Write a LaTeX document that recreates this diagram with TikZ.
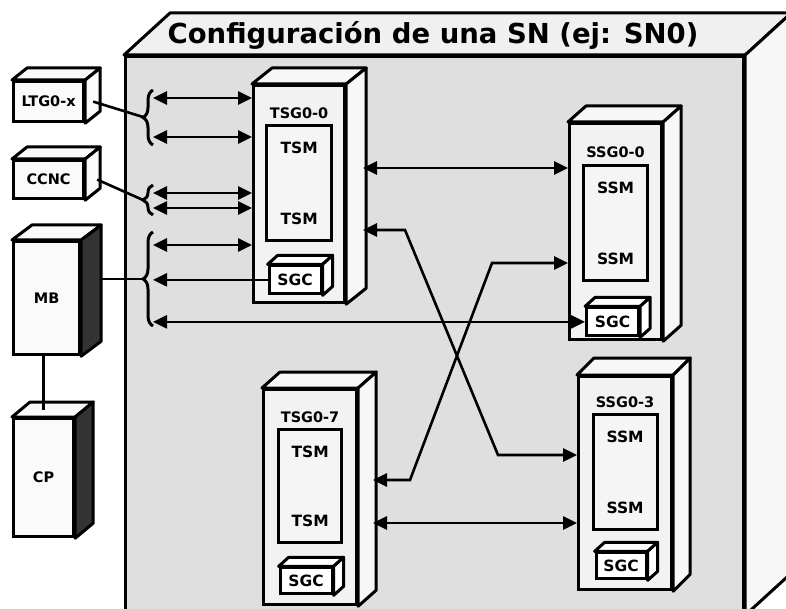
\documentclass[tikz,border=0pt]{standalone}
\usepackage{fontspec}
\setmainfont{DejaVu Sans}
\usetikzlibrary{arrows.meta, calc, positioning, decorations.pathreplacing}

\tikzstyle{unit} = [rectangle, draw=black, line width=3.2pt, anchor=north west, inner sep=0pt]
\tikzstyle{ext} = [unit, fill=gray!4, font=\bfseries\fontsize{14.5}{14.5}\selectfont]
\tikzstyle{grp} = [unit, fill=gray!10, minimum width=92pt, minimum height=216pt]
\tikzstyle{modbox} = [rectangle, draw=black, line width=3pt, fill=gray!8, inner sep=0pt]
\tikzstyle{sgcbox} = [rectangle, draw=black, line width=3pt, fill=white, inner sep=0pt, minimum width=52pt, minimum height=28pt, font=\bfseries\fontsize{15.5}{15.5}\selectfont]
\tikzstyle{headline} = [font=\bfseries\fontsize{27.5}{27.5}\selectfont, inner sep=0pt]
\tikzstyle{grplbl} = [font=\bfseries\fontsize{14.5}{14.5}\selectfont, inner sep=0pt]
\tikzstyle{modlbl} = [font=\bfseries\fontsize{15.5}{15.5}\selectfont, inner sep=0pt]
\tikzstyle{arrow} = [line width=2.6pt, >={Triangle[length=14pt,width=13pt]}]
\tikzstyle{wire} = [line width=2.6pt]
\tikzstyle{brc} = [line width=3pt, decorate, decoration={brace, amplitude=10pt}]

% top and side faces of a box: node, dx, dy, top fill, side fill
\newcommand{\drawcube}[5]{%
  \draw[line width=3pt, line join=round, fill=#4] (#1.north west) -- ++(#2,#3) -- ($(#1.north east)+(#2,#3)$) -- (#1.north east) -- cycle;
  \draw[line width=3pt, line join=round, fill=#5] (#1.north east) -- ++(#2,#3) -- ($(#1.south east)+(#2,#3)$) -- (#1.south east) -- cycle;
}

\begin{document}
\begin{tikzpicture}[x=1pt, y=-1pt]
\useasboundingbox (0,0) rectangle (786,609);

% switching network frame
\node[unit, fill=gray!25, minimum width=618pt, minimum height=557pt] (sn) at (124,55) {};
\drawcube{sn}{46}{-42}{gray!12}{gray!6}
\node[headline] (title) at (433,35) {Configuración de una SN (ej: SN0)};

% external units
\node[ext, minimum width=70pt, minimum height=40pt] (ltg) at (12,80) {LTG0-x};
\drawcube{ltg}{15}{-12}{gray!4}{gray!4}
\node[ext, minimum width=70pt, minimum height=38pt] (ccnc) at (12,159) {CCNC};
\drawcube{ccnc}{15}{-12}{gray!4}{gray!4}
\node[ext, minimum width=66pt, minimum height=113pt] (mb) at (12,240) {MB};
\drawcube{mb}{20}{-15}{gray!4}{black!80}
\node[ext, minimum width=60pt, minimum height=118pt] (cp) at (12,417) {CP};
\drawcube{cp}{18}{-15}{gray!4}{black!80}

% TSG0-0
\node[grp, minimum width=91pt, minimum height=217pt] (tsg00) at (252,84) {};
\drawcube{tsg00}{20}{-16}{gray!6}{gray!6}
\node[grplbl, below=24pt of tsg00.north] (tsg00l) {TSG0-0};
\node[modbox, minimum width=65pt, minimum height=115pt, below=5pt of tsg00l] (tsm00) {};
\node[modlbl, below=17pt of tsm00.north] (tsm00a) {TSM};
\node[modlbl, above=17pt of tsm00.south] (tsm00b) {TSM};
\node[sgcbox, below=22pt of tsm00.south, xshift=-4pt] (sgc00) {SGC};
\drawcube{sgc00}{10}{-9}{white}{white}

% TSG0-7
\node[grp, minimum width=93pt, minimum height=215pt] (tsg07) at (262,388) {};
\drawcube{tsg07}{18}{-16}{gray!6}{gray!6}
\node[grplbl, below=24pt of tsg07.north] (tsg07l) {TSG0-7};
\node[modbox, minimum width=63pt, minimum height=113pt, below=5pt of tsg07l] (tsm07) {};
\node[modlbl, below=17pt of tsm07.north] (tsm07a) {TSM};
\node[modlbl, above=17pt of tsm07.south] (tsm07b) {TSM};
\node[sgcbox, minimum height=26pt, below=22pt of tsm07.south, xshift=-4pt] (sgc07) {SGC};
\drawcube{sgc07}{10}{-9}{white}{white}

% SSG0-0
\node[grp] (ssg00) at (568,122) {};
\drawcube{ssg00}{18}{-16}{gray!6}{gray!6}
\node[grplbl, below=25pt of ssg00.north] (ssg00l) {SSG0-0};
\node[modbox, minimum width=64pt, minimum height=115pt, below=6pt of ssg00l] (ssm00) {};
\node[modlbl, below=17pt of ssm00.north] (ssm00a) {SSM};
\node[modlbl, above=17pt of ssm00.south] (ssm00b) {SSM};
\node[sgcbox, below=24pt of ssm00.south, xshift=-3pt] (ssgc00) {SGC};
\drawcube{ssgc00}{10}{-9}{white}{white}

% SSG0-3
\node[grp, minimum width=93pt, minimum height=213pt] (ssg03) at (577,375) {};
\drawcube{ssg03}{17}{-17}{gray!6}{gray!6}
\node[grplbl, below=22pt of ssg03.north] (ssg03l) {SSG0-3};
\node[modbox, minimum width=64pt, minimum height=115pt, below=5pt of ssg03l] (ssm03) {};
\node[modlbl, below=17pt of ssm03.north] (ssm03a) {SSM};
\node[modlbl, above=17pt of ssm03.south] (ssm03b) {SSM};
\node[sgcbox, minimum width=50pt, minimum height=26pt, below=20pt of ssm03.south, xshift=-4pt] (ssgc03) {SGC};
\drawcube{ssgc03}{10}{-9}{white}{white}

% braces in front of TSG0-0
\coordinate (b1) at (143,117);
\coordinate (b2) at (143,200);
\coordinate (b3) at (143,279);
\draw[brc] (153,145) -- (153,90);
\draw[brc] (153,215) -- (153,185);
\draw[brc] (153,326) -- (153,232);

% external links
\draw[wire] ([xshift=8pt]ltg.east) -- (b1);
\draw[wire] ([xshift=12pt]ccnc.east) -- (b2);
\draw[wire] ([xshift=20pt]mb.east |- b3) -- (b3);
\draw[wire] (cp.north |- mb.south) -- ([yshift=7pt]cp.north);

% links into TSG0-0
\coordinate (l1) at (153,98);
\coordinate (l2) at (153,137);
\coordinate (l3) at (153,193);
\coordinate (l4) at (153,208);
\coordinate (l5) at (153,245);
\draw[arrow, <->] (l1) -- (l1 -| tsg00.west);
\draw[arrow, <->] (l2) -- (l2 -| tsg00.west);
\draw[arrow, <->] (l3) -- (l3 -| tsg00.west);
\draw[arrow, <->] (l4) -- (l4 -| tsg00.west);
\draw[arrow, <->] (l5) -- (l5 -| tsg00.west);
\draw[arrow, ->] (sgc00.west) -- (sgc00.west -| l1);
\draw[arrow, <->] (ssgc00.west -| l1) -- (ssgc00.west);

% links between TSG and SSG
\coordinate (r1) at (363,168);
\coordinate (r2) at (363,230);
\coordinate (r4) at (373,523);
\coordinate (s2) at (498,455);
\coordinate (s3) at (492,263);
\coordinate (t3) at (410,480);
\draw[arrow, <->] (r1) -- (r1 -| ssg00.west);
\draw[arrow, <->] (r2) -- ++(42,0) -- (s2) -- (s2 -| ssg03.west);
\draw[arrow, <->] (s3 -| ssg00.west) -- (s3) -- (t3) -- (t3 -| r4);
\draw[arrow, <->] (r4) -- (r4 -| ssg03.west);
\end{tikzpicture}
\end{document}
